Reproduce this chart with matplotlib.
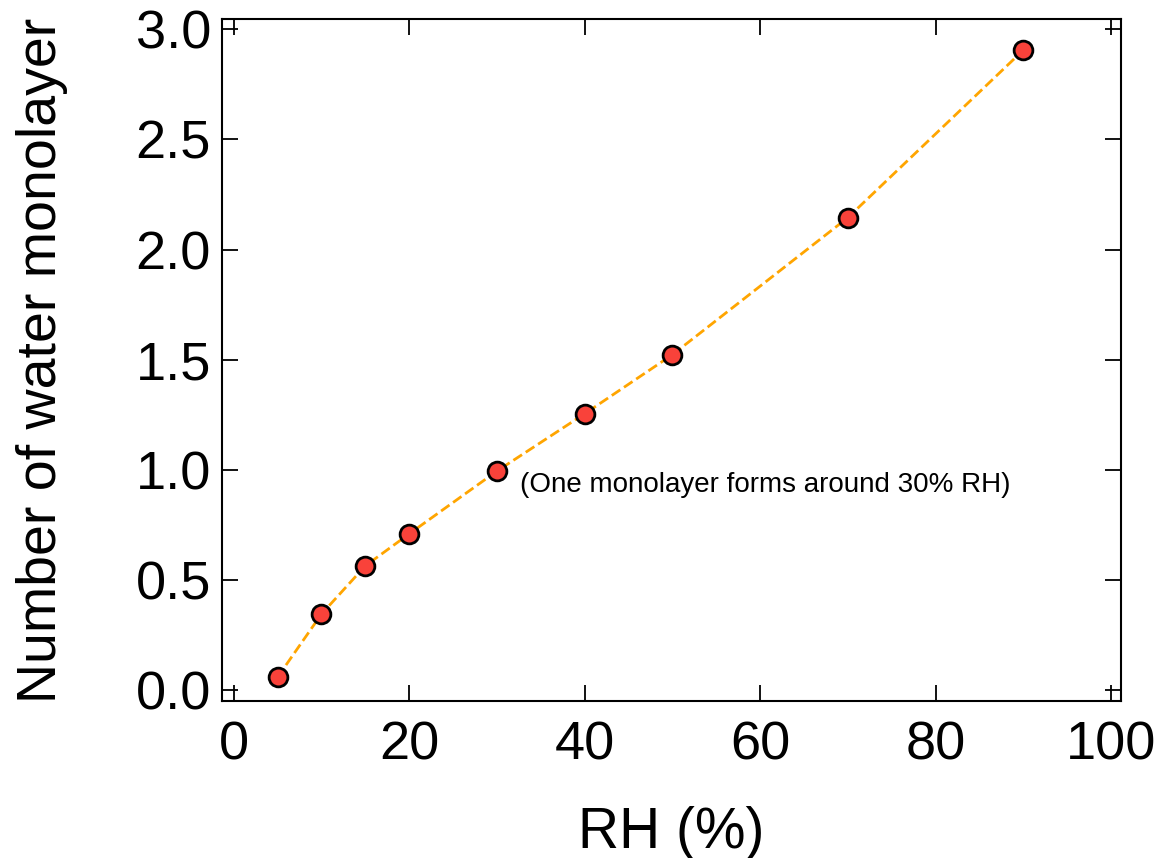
import matplotlib
matplotlib.use('Agg')
import matplotlib.pyplot as plt

plt.rcParams['font.family'] = ['Liberation Sans', 'DejaVu Sans']

# relative humidity (%) and number of water monolayers
rh = [5, 10, 15, 20, 30, 40, 50, 70, 90]
monolayer = [0.06, 0.346, 0.565, 0.71, 0.995, 1.255, 1.523, 2.145, 2.905]

xticks = [0, 20, 40, 60, 80, 100]
yticks = [0.0, 0.5, 1.0, 1.5, 2.0, 2.5, 3.0]
note = '(One monolayer forms around 30% RH)'

fig = plt.figure(figsize=(11.65, 8.58), dpi=100)
ax = fig.add_axes([0.1906, 0.1833, 0.9714 - 0.1906 - 0.0094, 0.9773 - 0.1833])

ax.plot(rh, monolayer, linestyle='--', color='orange', linewidth=2, zorder=2)
ax.plot(rh, monolayer, linestyle='none', marker='o', markersize=13.5,
        markerfacecolor='#f9423a', markeredgecolor='black', markeredgewidth=2, zorder=3)

ax.text(32.6, 0.93, note, fontsize=20, va='center', ha='left')

ax.set_xlim(-1.33, 101.1)
ax.set_ylim(-0.047, 3.044)
ax.set_xticks(xticks)
ax.set_yticks(yticks)
ax.set_yticklabels(['%.1f' % v for v in yticks])

ax.tick_params(direction='in', length=11.5, width=1.3, top=True, right=True,
               labelsize=39)
ax.tick_params(axis='x', pad=14)
ax.tick_params(axis='y', pad=8)
for s in ax.spines.values():
    s.set_linewidth(1.5)

ax.set_xlabel('RH (%)', fontsize=41, labelpad=26)
ax.set_ylabel('Number of water monolayer', fontsize=40, labelpad=49)

fig.savefig('out.png', dpi=100)
